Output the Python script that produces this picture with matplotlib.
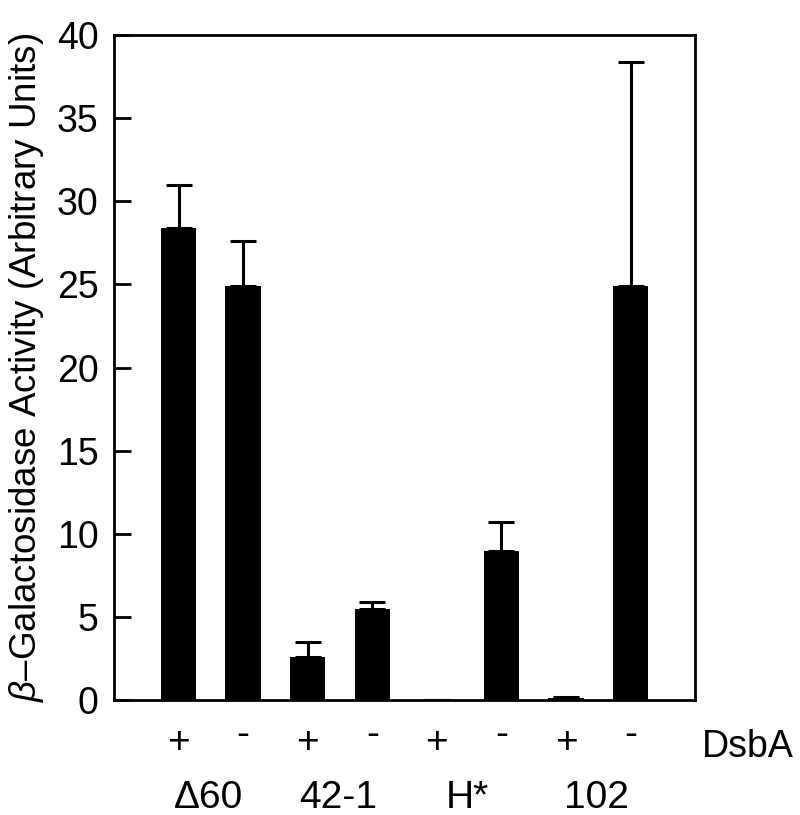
import matplotlib
matplotlib.use("Agg")
import matplotlib.pyplot as plt
import numpy as np

plt.rcParams['font.family'] = ['Liberation Sans', 'DejaVu Sans']
plt.rcParams['mathtext.fontset'] = 'custom'
plt.rcParams['mathtext.it'] = 'Liberation Sans:italic'
plt.rcParams['mathtext.rm'] = 'Liberation Sans'

# data
dsba = ['+', '-', '+', '-', '+', '-', '+', '-']
groups = ['Δ60', '42-1', 'H*', '102']
activity = [28.4, 24.9, 2.6, 5.45, 0.0, 8.95, 0.12, 24.9]
err_up = [2.6, 2.7, 0.9, 0.45, 0.0, 1.75, 0.05, 13.45]

x = np.arange(len(activity))

fig = plt.figure(figsize=(8, 8.15), dpi=100)
ax = fig.add_axes([0.1425, 0.141, 0.7265, 0.816])

ax.bar(x, activity, width=0.55, color='black', zorder=2)
ax.errorbar(x, activity, yerr=[np.zeros(len(err_up)), err_up], fmt='none',
            ecolor='black', elinewidth=2.2, capsize=9.5, capthick=2.2, zorder=3)

ax.set_xlim(-1, 8)
ax.set_ylim(0, 40)
ax.set_yticks(np.arange(0, 41, 5))
ax.set_xticks([])
ax.tick_params(axis='y', direction='in', length=12, width=2, labelsize=27, pad=11)
for s in ax.spines.values():
    s.set_linewidth(2)

ax.set_ylabel(r'$\mathit{\beta}$–Galactosidase Activity (Arbitrary Units)', fontsize=26.5, labelpad=8)

# DsbA +/- row
trans = ax.get_xaxis_transform()
for xi, sign in zip(x, dsba):
    if sign == '+':
        ax.text(xi, -0.065, sign, transform=trans, ha='center', va='center', fontsize=28)
    else:
        ax.text(xi, -0.052, sign, transform=trans, ha='center', va='center', fontsize=28)
ax.text(8.1, -0.071, 'DsbA', transform=trans, ha='left', va='center', fontsize=27)

# group labels
for i, g in enumerate(groups):
    ax.text(2 * i + 0.47, -0.147, g, transform=trans, ha='center', va='center', fontsize=28)

fig.savefig('out.png', dpi=100)
